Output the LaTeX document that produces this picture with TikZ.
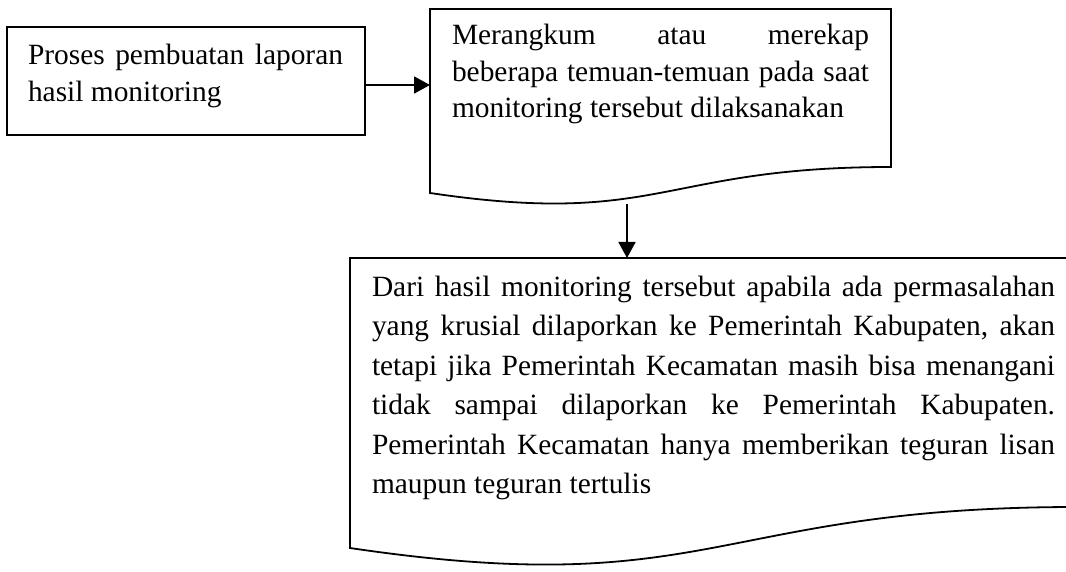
\documentclass[tikz,border=0pt]{standalone}
\usepackage{fontspec}
\setmainfont{Liberation Serif}
\usetikzlibrary{arrows.meta}
\tolerance=10000
\hbadness=10000
\hyphenpenalty=10000
\exhyphenpenalty=10000
\frenchspacing
\begin{document}
\begin{tikzpicture}[x=1pt,y=-1pt,
  boxline/.style={draw=black, line width=1.8pt, line join=miter},
  frame/.style={inner sep=0pt, outer sep=0pt},
  txt/.style={inner sep=0pt, outer sep=0pt, anchor=base west, align=justify},
  arr/.style={-{Triangle[length=16pt,width=17pt]}, line width=1.8pt}]
\useasboundingbox (0,0) rectangle (1066,572);
\fill[white] (0,0) rectangle (1066,572);
\clip (0,0) rectangle (1066,572);

% box 1
\node[frame, boxline, minimum width=358pt, minimum height=108pt] (b1) at (186,81) {};
\node[txt, text width=315pt, font=\fontsize{29.4pt}{37pt}\selectfont] (t1) at (28,65)
  {Proses pembuatan laporan\linebreak hasil monitoring};

% box 2 (document shape)
\node[frame, minimum width=461pt, minimum height=197pt] (b2) at (660.5,107.5) {};
\draw[boxline] (430,9) -- (891,9) -- (891,167)
  .. controls (660.5,167) and (660.5,227.2) .. (430,193) -- cycle;
\node[txt, text width=417pt, font=\fontsize{29.4pt}{36.5pt}\selectfont] (t2) at (452,45)
  {Merangkum atau merekap\linebreak beberapa temuan-temuan pada saat\linebreak monitoring tersebut dilaksanakan};

% box 3 (document shape)
\node[frame, minimum width=727pt, minimum height=310.5pt] (b3) at (713.5,413.25) {};
\draw[boxline] (350,258) -- (1077,258) -- (1077,507)
  .. controls (713.5,507) and (713.5,601.9) .. (350,548) -- cycle;
\node[txt, text width=683pt, font=\fontsize{29.4pt}{39.5pt}\selectfont] (t3) at (372,296)
  {Dari hasil monitoring tersebut apabila ada permasalahan\linebreak
   yang krusial dilaporkan ke Pemerintah Kabupaten, akan\linebreak
   tetapi jika Pemerintah Kecamatan masih bisa menangani\linebreak
   tidak sampai dilaporkan ke Pemerintah Kabupaten.\linebreak
   Pemerintah Kecamatan hanya memberikan teguran lisan\linebreak
   maupun teguran tertulis};

% connectors
\draw[arr] ([yshift=-4pt]b1.east) -- ([yshift=-4pt]b1.east -| b2.west);
\coordinate (a2) at (627,204);
\draw[arr] (a2) -- (a2 |- b3.north);
\end{tikzpicture}
\end{document}
